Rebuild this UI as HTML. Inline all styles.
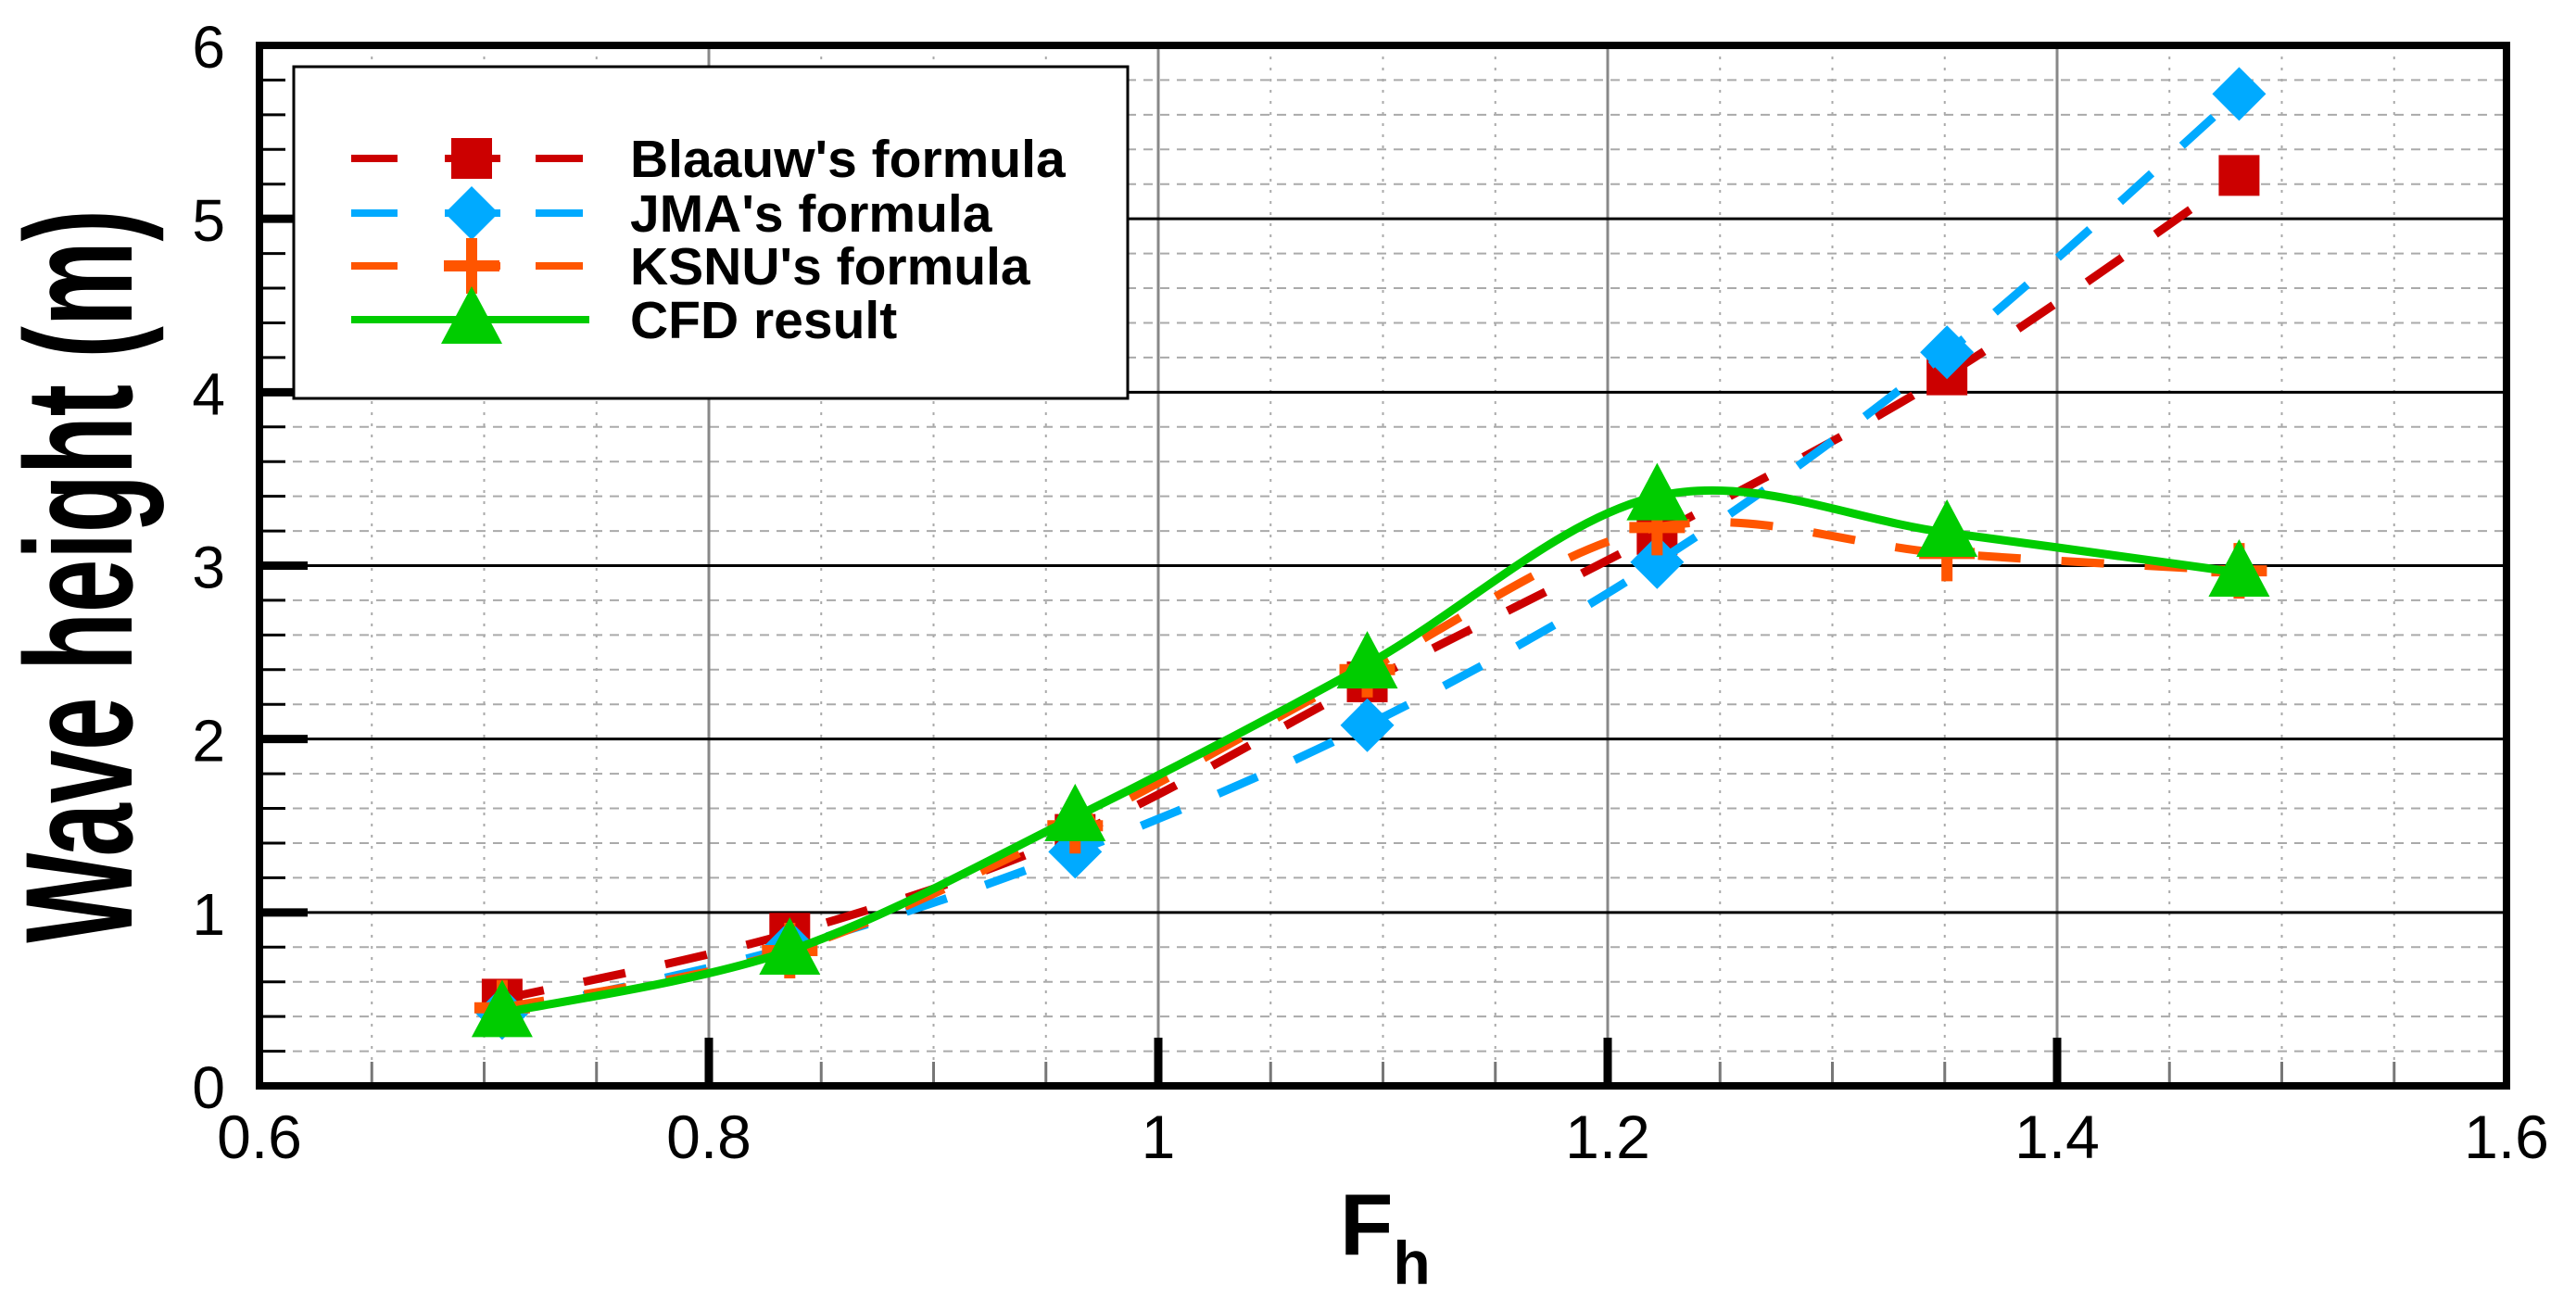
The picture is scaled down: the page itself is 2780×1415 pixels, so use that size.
<!DOCTYPE html>
<html><head><meta charset="utf-8"><style>
html,body{margin:0;padding:0;background:#fff;}
svg{display:block;font-family:"Liberation Sans",Arial,sans-serif;}
</style></head><body>
<svg id="chart" width="2780" height="1415" viewBox="0 0 2780 1415" xmlns="http://www.w3.org/2000/svg">
<g id="grid"></g>
<g id="series"></g>
<g id="frame"></g>
<g id="labels"></g>
<text transform="translate(142,622) rotate(-90) scale(1,1.6)" text-anchor="middle" font-weight="bold" font-size="103" fill="#000">Wave height (m)</text>
<text x="1446" y="1354" font-weight="bold" font-size="94" fill="#000">F<tspan font-size="66" dy="32">h</tspan></text>
<g>
<rect x="317" y="72" width="900" height="358" fill="#fff" stroke="#000" stroke-width="3"/>
<g id="legend-items"></g>
</g>
</svg>
<script>
const xValues=[0.708,0.836,0.963,1.093,1.222,1.351,1.481];
const blaauw=[0.50,0.88,1.45,2.33,3.18,4.10,5.25];
const jma=[0.42,0.80,1.35,2.08,3.02,4.23,5.72];
const ksnu=[0.45,0.78,1.50,2.40,3.22,3.07,2.97];
const cfd=[0.42,0.78,1.55,2.43,3.40,3.19,2.96];
const xTicks=["0.6","0.8","1","1.2","1.4","1.6"];
const yTicks=["0","1","2","3","4","5","6"];
const seriesNames=["Blaauw's formula","JMA's formula","KSNU's formula","CFD result"];

const X0=280,X1=2705,Y0=1172,Y1=49;
const xs=v=>X0+(v-0.6)/1.0*(X1-X0);
const ys=v=>Y0-v/6*(Y0-Y1);
const NS="http://www.w3.org/2000/svg";
function mk(tag,attrs,parent){const e=document.createElementNS(NS,tag);for(const k in attrs)e.setAttribute(k,attrs[k]);parent.appendChild(e);return e;}
const grid=document.getElementById('grid'),ser=document.getElementById('series'),frame=document.getElementById('frame'),labels=document.getElementById('labels');

for(let i=1;i<20;i++){const v=0.6+i*0.05;if(i%4===0)continue;
 const l=mk('line',{x1:xs(v),x2:xs(v),y1:Y1,y2:Y0,stroke:'#aaa','stroke-width':2,'stroke-dasharray':'3 9'},grid);
 
 const t=mk('line',{x1:xs(v),x2:xs(v),y1:Y0-26,y2:Y0,stroke:'#777','stroke-width':3},frame);
 }
for(let i=1;i<30;i++){const v=i*0.2;if(i%5===0)continue;
 const l=mk('line',{x1:X0,x2:X1,y1:ys(v),y2:ys(v),stroke:'#aaa','stroke-width':2,'stroke-dasharray':'10 8'},grid);
 
 const t=mk('line',{x1:X0,x2:X0+28,y1:ys(v),y2:ys(v),stroke:'#000','stroke-width':3},frame);
 }
xTicks.forEach((s,i)=>{const v=parseFloat(s);const x=xs(v);
 if(i>0&&i<xTicks.length-1){const l=mk('line',{x1:x,x2:x,y1:Y1,y2:Y0,stroke:'#888','stroke-width':3},grid);
  
  const t=mk('line',{x1:x,x2:x,y1:Y0-52,y2:Y0,stroke:'#000','stroke-width':9},frame);
  }
 const tx=mk('text',{x:x,y:1250,'text-anchor':'middle','font-size':66,fill:'#000'},labels);tx.textContent=s;
 });
yTicks.forEach((s,i)=>{const v=parseFloat(s);const y=ys(v);
 if(i>0&&i<yTicks.length-1){const l=mk('line',{x1:X0,x2:X1,y1:y,y2:y,stroke:'#000','stroke-width':3},grid);
  
  const t=mk('line',{x1:X0,x2:X0+52,y1:y,y2:y,stroke:'#000','stroke-width':9},frame);
  }
 const tx=mk('text',{x:243,y:y+24,'text-anchor':'end','font-size':64,fill:'#000'},labels);tx.textContent=s;
 });
const fr=mk('rect',{x:X0,y:Y1,width:X1-X0,height:Y0-Y1,fill:'none',stroke:'#000','stroke-width':8},frame);


function spline(vals){const p=xValues.map((x,i)=>[xs(x),ys(vals[i])]);let d='M'+p[0][0]+','+p[0][1];
 for(let i=0;i<p.length-1;i++){const a=p[Math.max(0,i-1)],b=p[i],c=p[i+1],e=p[Math.min(p.length-1,i+2)];
  const c1=[b[0]+(c[0]-a[0])/6,b[1]+(c[1]-a[1])/6],c2=[c[0]-(e[0]-b[0])/6,c[1]-(e[1]-b[1])/6];
  d+=' C'+c1[0]+','+c1[1]+' '+c2[0]+','+c2[1]+' '+c[0]+','+c[1];}return d;}
function marker(type,x,y,color,parent){
 if(type==='square')return mk('rect',{x:x-22,y:y-22,width:44,height:44,fill:color},parent);
 if(type==='diamond')return mk('polygon',{points:`${x},${y-29} ${x+29},${y} ${x},${y+29} ${x-29},${y}`,fill:color},parent);
 if(type==='plus')return mk('path',{d:`M${x-30},${y}H${x+30}M${x},${y-30}V${y+30}`,stroke:color,'stroke-width':12,fill:'none'},parent);
 return mk('polygon',{points:`${x},${y-36} ${x+33},${y+26} ${x-33},${y+26}`,fill:color},parent);}
const defs=[[blaauw,'#cc0000','square',true,'blaauw'],[jma,'#00aaff','diamond',true,'jma'],[ksnu,'#ff5500','plus',true,'ksnu'],[cfd,'#00cc00','triangle',false,'cfd']];
defs.forEach(([vals,col,m,dash,nm])=>{
 const a={d:spline(vals),fill:'none',stroke:col,'stroke-width':9};if(dash)a['stroke-dasharray']='46 44';
 const p=mk('path',a,ser);
 xValues.forEach((x,i)=>{const mm=marker(m,xs(x),ys(vals[i]),col,ser);
  });});
const li=document.getElementById('legend-items');
const rowsY=[171,230,287,345];
defs.forEach(([vals,col,m,dash,nm],i)=>{const y=rowsY[i];
 const g=mk('g',{},li);
 if(dash){mk('line',{x1:379,x2:429,y1:y,y2:y,stroke:col,'stroke-width':8},g);mk('line',{x1:480,x2:540,y1:y,y2:y,stroke:col,'stroke-width':8},g);mk('line',{x1:578,x2:629,y1:y,y2:y,stroke:col,'stroke-width':8},g);}
 else mk('line',{x1:379,x2:636,y1:y,y2:y,stroke:col,'stroke-width':8},g);
 marker(m,509,y,col,g);
 const t=mk('text',{x:680,y:y+20,'font-size':57,'font-weight':'bold',fill:'#000'},g);t.textContent=seriesNames[i];});
</script>
</body></html>
